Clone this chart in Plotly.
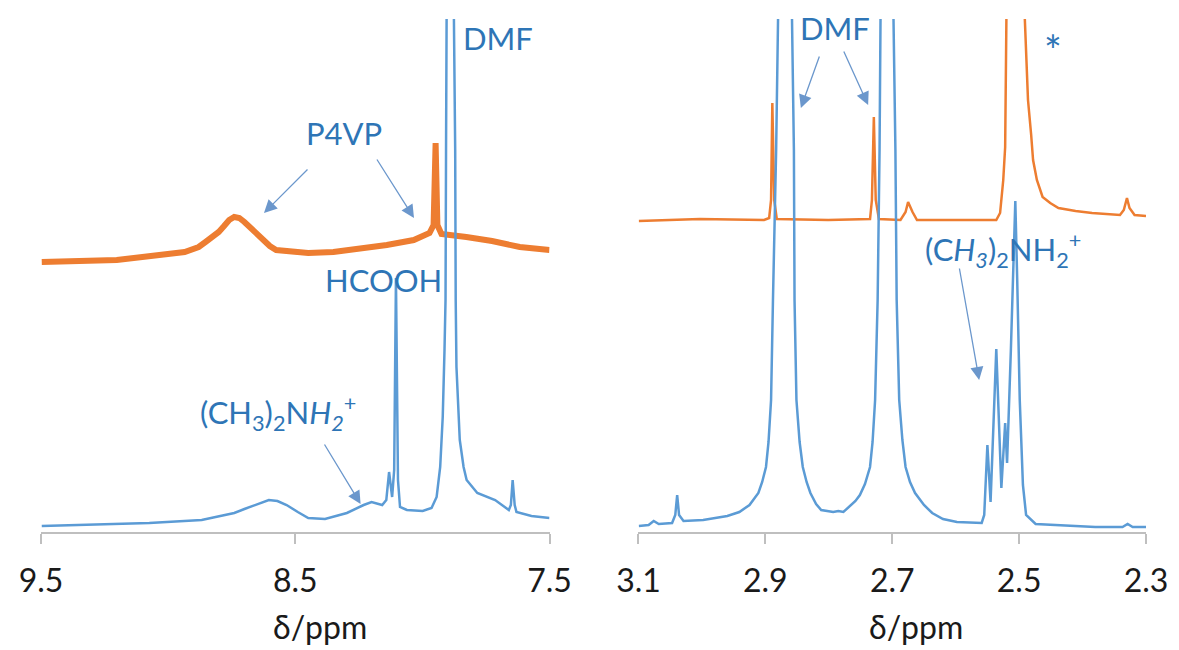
import plotly.graph_objects as go

# ---------------- data ----------------
# Left panel (aromatic region), chemical shift in ppm, intensity in arbitrary units
left_blue_ppm = [9.497, 9.074, 8.868, 8.740, 8.700, 8.658, 8.630, 8.604, 8.570, 8.534,
                 8.490, 8.449, 8.383, 8.297, 8.231, 8.200, 8.158, 8.142, 8.131, 8.119,
                 8.111, 8.104, 8.096, 8.088, 8.061, 7.999, 7.964, 7.944, 7.930, 7.920,
                 7.913, 7.909, 7.907, 7.903, 7.888, 7.876, 7.871, 7.869, 7.866, 7.853,
                 7.838, 7.826, 7.784, 7.714, 7.687, 7.660, 7.652, 7.645, 7.637, 7.630,
                 7.571, 7.500]
left_blue_int = [6, 9, 12, 19, 23, 27, 30, 32, 31, 27,
                 20, 14, 13, 19, 27, 30, 27, 32, 60, 35,
                 62, 254, 52, 25, 22, 21, 24, 35, 65, 115,
                 182, 232, 382, 513, 1500, 513, 382, 232, 165, 92,
                 65, 52, 39, 32, 27, 22, 27, 52, 27, 20,
                 16, 14]

left_orange_ppm = [9.497, 9.202, 8.935, 8.880, 8.853, 8.825, 8.801, 8.780, 8.760, 8.740,
                   8.720, 8.700, 8.680, 8.658, 8.640, 8.623, 8.600, 8.575, 8.518, 8.449,
                   8.350, 8.244, 8.140, 8.034, 7.972, 7.956, 7.948, 7.941, 7.925, 7.827,
                   7.726, 7.617, 7.500]
left_orange_int = [270, 272, 280, 285, 290, 295, 300, 306, 312, 315,
                   314, 310, 305, 299, 294, 290, 286, 282, 280, 279,
                   280, 283, 287, 292, 299, 307, 389, 307, 298, 295,
                   291, 285, 282]

# Right panel (aliphatic region)
right_blue_ppm = [3.0995, 3.084, 3.076, 3.068, 3.047, 3.042, 3.039, 3.036, 3.029, 2.998,
                  2.960, 2.941, 2.925, 2.911, 2.905, 2.899, 2.895, 2.891, 2.888, 2.883,
                  2.880, 2.869, 2.858, 2.855, 2.854, 2.851, 2.846, 2.841, 2.835, 2.829,
                  2.820, 2.812, 2.793, 2.785, 2.777, 2.765, 2.758, 2.751, 2.743, 2.735,
                  2.731, 2.727, 2.723, 2.720, 2.717, 2.707, 2.698, 2.695, 2.693, 2.689,
                  2.684, 2.679, 2.672, 2.664, 2.650, 2.637, 2.620, 2.598, 2.559, 2.555,
                  2.550, 2.545, 2.536, 2.528, 2.522, 2.519, 2.513, 2.510, 2.506, 2.503,
                  2.499, 2.494, 2.489, 2.474, 2.380, 2.337, 2.329, 2.321, 2.300]
right_blue_int = [6, 7, 11, 8, 9, 17, 37, 17, 11, 12,
                  16, 20, 27, 39, 50, 65, 90, 132, 232, 382,
                  513, 1500, 513, 382, 232, 132, 90, 65, 50, 39,
                  28, 22, 20, 21, 20, 27, 31, 37, 48, 65,
                  90, 132, 232, 382, 513, 1500, 513, 382, 232, 132,
                  92, 65, 50, 39, 27, 19, 13, 10, 9, 17,
                  87, 30, 183, 44, 109, 69, 182, 252, 331, 252,
                  132, 47, 17, 8, 5, 5, 8, 5, 5]

right_orange_ppm = [3.0995, 3.003, 2.902, 2.894, 2.891, 2.889, 2.886, 2.882, 2.801, 2.735,
                    2.732, 2.729, 2.726, 2.721, 2.687, 2.679, 2.675, 2.668, 2.661, 2.536,
                    2.530, 2.527, 2.525, 2.522, 2.520, 2.519, 2.505, 2.491, 2.488, 2.486,
                    2.481, 2.478, 2.472, 2.463, 2.451, 2.438, 2.411, 2.385, 2.341, 2.335,
                    2.330, 2.326, 2.318, 2.300]
right_orange_int = [311, 313, 312, 314, 332, 429, 332, 313, 312, 313,
                    332, 415, 332, 313, 312, 320, 330, 320, 312, 312,
                    319, 337, 352, 385, 452, 513, 1500, 513, 462, 432,
                    397, 372, 352, 335, 329, 324, 321, 319, 317, 322,
                    334, 324, 317, 316]

left_ticks = [9.5, 8.5, 7.5]
left_tick_labels = ["9.5", "8.5", "7.5"]
right_ticks = [3.1, 2.9, 2.7, 2.5, 2.3]
right_tick_labels = ["3.1", "2.9", "2.7", "2.5", "2.3"]

axis_title = "δ/ppm"
amine_left = "(CH<sub>3</sub>)<sub>2</sub>N<i>H</i><sub><i>2</i></sub><sup>+</sup>"
amine_right = "(C<i>H</i><sub><i>3</i></sub>)<sub>2</sub>NH<sub>2</sub><sup>+</sup>"

# ---------------- styling ----------------
BLUE = "#5B9BD5"
ORANGE = "#ED7D31"
TXT = "#2E75B6"
ARROW = "#6B97CC"
AXIS = "#BFBFBF"
FONT = "Lato"

fig = go.Figure()
fig.add_trace(go.Scatter(x=left_orange_ppm, y=left_orange_int, mode="lines",
                         line=dict(color=ORANGE, width=6), xaxis="x", yaxis="y",
                         showlegend=False, hoverinfo="skip"))
fig.add_trace(go.Scatter(x=left_blue_ppm, y=left_blue_int, mode="lines",
                         line=dict(color=BLUE, width=2.5), xaxis="x", yaxis="y",
                         showlegend=False, hoverinfo="skip"))
fig.add_trace(go.Scatter(x=right_orange_ppm, y=right_orange_int, mode="lines",
                         line=dict(color=ORANGE, width=2.5), xaxis="x2", yaxis="y2",
                         showlegend=False, hoverinfo="skip"))
fig.add_trace(go.Scatter(x=right_blue_ppm, y=right_blue_int, mode="lines",
                         line=dict(color=BLUE, width=2.5), xaxis="x2", yaxis="y2",
                         showlegend=False, hoverinfo="skip"))

xcommon = dict(showgrid=False, zeroline=False, showline=True, linecolor=AXIS, linewidth=1.5,
               ticks="outside", ticklen=10, tickcolor=AXIS, tickwidth=1.5,
               tickfont=dict(family=FONT, size=32, color="#1a1a1a"),
               ticklabelstandoff=10, fixedrange=True)
ycommon = dict(visible=False, range=[0, 513], fixedrange=True)

# the page body adds an 8 px margin, so the figure is 8 px smaller than the window
fig.update_layout(
    width=1171, height=642,
    margin=dict(l=25, r=27, t=11, b=118),
    paper_bgcolor="white", plot_bgcolor="white",
    font=dict(family=FONT, size=31, color=TXT),
    xaxis=dict(domain=[0, 0.4602], range=[9.5, 7.5], tickvals=left_ticks,
               ticktext=left_tick_labels, anchor="y", **xcommon),
    yaxis=dict(domain=[0, 1], anchor="x", **ycommon),
    xaxis2=dict(domain=[0.5407, 1], range=[3.1, 2.3], tickvals=right_ticks,
                ticktext=right_tick_labels, anchor="y2", **xcommon),
    yaxis2=dict(domain=[0, 1], anchor="x2", **ycommon),
)

def label(text, x, y, xr, yr, size=31, color=TXT):
    fig.add_annotation(text=text, x=x, y=y, xref=xr, yref=yr, showarrow=False,
                       xanchor="center", yanchor="middle",
                       font=dict(family=FONT, size=size, color=color))

def arrow(x, y, ax, ay, xr, yr):
    fig.add_annotation(text="", x=x, y=y, xref=xr, yref=yr, ax=ax, ay=ay,
                       showarrow=True, arrowhead=2, arrowsize=2, arrowwidth=1.3,
                       arrowcolor=ARROW)

# left panel labels
label("DMF", 7.703, 494, "x", "y")
label("P4VP", 8.309, 399, "x", "y")
arrow(8.623, 319, 45, -45, "x", "y")
arrow(8.033, 314, -38, -60, "x", "y")
label("HCOOH", 8.154, 252, "x", "y")
label(amine_left, 8.569, 119, "x", "y")
arrow(8.243, 28, -37, -61, "x", "y")

# right panel labels
label("DMF", 2.790, 504, "x2", "y2")
arrow(2.844, 424, 19, -53, "x2", "y2")
arrow(2.738, 427, -25, -55, "x2", "y2")
label("*", 2.447, 482, "x2", "y2", size=42)
label(amine_right, 2.525, 282, "x2", "y2")
arrow(2.563, 152, -20, -113, "x2", "y2")

# axis titles
label(axis_title, 8.402, -0.184, "x", "paper", size=32, color="#1a1a1a")
label(axis_title, 2.662, -0.184, "x2", "paper", size=32, color="#1a1a1a")

fig.write_html("out.html")
